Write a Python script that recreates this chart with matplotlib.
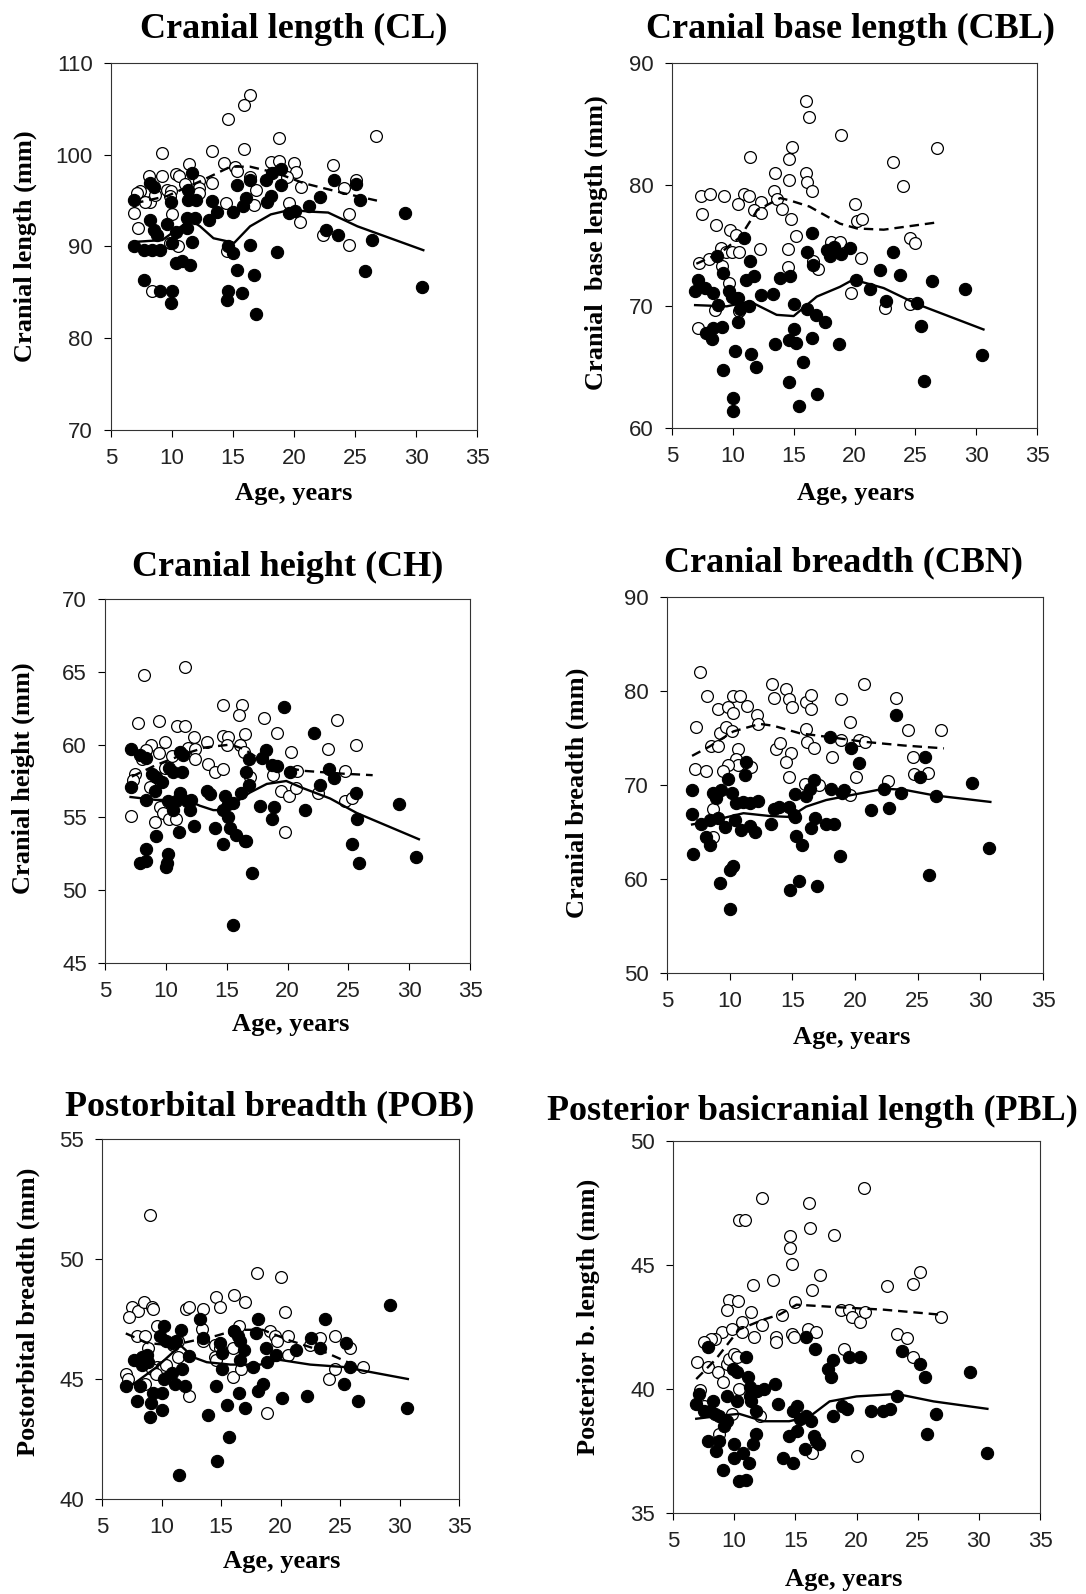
import numpy as np
import matplotlib
matplotlib.use("Agg")
import matplotlib.pyplot as plt

# ---- Cranial length (CL) ----
cl_open = [(16.4, 106.5), (15.9, 105.4), (14.6, 103.9), (18.8, 101.8), (26.7, 102.0), (9.2, 100.2),
           (15.9, 100.6), (13.3, 100.4), (11.4, 99.0), (14.3, 99.1), (15.2, 98.7), (15.3, 98.2),
           (18.1, 99.2), (18.8, 99.3), (20.0, 99.1), (20.2, 98.1), (23.2, 98.9), (8.1, 97.7),
           (9.2, 97.7), (10.3, 97.9), (10.6, 97.7), (7.4, 96.0), (7.1, 95.8), (8.2, 94.9),
           (7.8, 94.9), (9.6, 96.2), (9.9, 96.0), (9.8, 95.5), (12.2, 97.1), (12.2, 96.4),
           (12.2, 95.8), (13.3, 96.9), (16.4, 97.6), (16.9, 96.2), (19.4, 97.6), (20.6, 96.5),
           (24.1, 96.4), (25.1, 97.2), (14.4, 94.7), (19.6, 94.7), (20.5, 92.7), (6.9, 93.6),
           (7.2, 92.0), (10.0, 93.5), (10.5, 90.0), (9.8, 90.4), (24.5, 93.5), (22.4, 91.3),
           (24.5, 90.2), (14.5, 89.5), (8.4, 85.1), (16.7, 94.5), (11.1, 96.8), (8.6, 95.6)]
cl_fill = [(6.9, 95.1), (8.2, 96.9), (8.5, 96.5), (8.2, 92.9), (8.5, 91.8), (8.8, 91.3), (9.6, 92.5),
           (9.9, 94.9), (10.3, 91.6), (6.9, 90.0), (7.7, 89.6), (8.4, 89.6), (9.0, 89.6), (10.0, 90.4),
           (11.3, 95.1), (12.0, 95.1), (11.6, 98.0), (11.3, 96.2), (11.2, 93.1), (11.9, 93.1),
           (11.2, 92.0), (11.6, 90.5), (10.3, 88.2), (10.8, 88.4), (11.5, 88.0), (7.7, 86.4),
           (9.0, 85.1), (10.0, 85.1), (9.9, 83.8), (13.3, 95.0), (13.7, 93.8), (13.0, 92.9),
           (15.0, 93.8), (14.6, 90.0), (15.0, 89.3), (15.3, 87.4), (14.6, 85.2), (15.7, 84.9),
           (14.5, 84.2), (16.4, 90.2), (16.7, 86.9), (16.9, 82.6), (15.3, 96.7), (15.8, 94.4),
           (16.1, 95.3), (16.4, 97.3), (17.7, 97.3), (17.8, 94.9), (18.1, 95.5), (18.2, 98.0),
           (18.9, 98.5), (18.9, 96.7), (18.6, 89.4), (19.6, 93.6), (20.1, 93.9), (21.2, 94.4),
           (22.1, 95.4), (22.6, 91.8), (23.3, 97.2), (23.6, 91.3), (25.1, 96.8), (25.4, 95.1),
           (26.4, 90.7), (25.8, 87.3), (29.1, 93.6), (30.5, 85.6)]
cl_solid = [(6.9, 90.5), (9.2, 90.7), (11.5, 92.9), (12.3, 92.2), (13.4, 90.9), (15.1, 90.4),
            (16.4, 92.2), (18.1, 93.5), (19.7, 94.0), (21.3, 93.8), (22.8, 93.7), (25.2, 92.2),
            (30.6, 89.6)]
cl_dash = [(6.9, 94.7), (9.6, 95.5), (12.3, 97.1), (14.8, 98.7), (16.4, 98.7), (18.6, 98.0),
           (20.8, 96.9), (24.1, 95.8), (26.8, 95.0)]

# ---- Cranial base length (CBL) ----
cbl_open = [(16.0, 86.9), (16.3, 85.6), (18.9, 84.1), (26.8, 83.0), (11.4, 82.3), (14.9, 83.1),
            (14.6, 82.1), (13.5, 81.0), (16.0, 81.0), (16.1, 80.2), (16.5, 79.5), (14.6, 80.4),
            (23.2, 81.9), (24.0, 79.9), (7.4, 79.1), (8.1, 79.2), (9.3, 79.1), (10.9, 79.2),
            (11.3, 79.1), (10.4, 78.4), (7.5, 77.6), (8.6, 76.7), (12.3, 78.6), (11.7, 77.9),
            (12.3, 77.7), (13.4, 79.5), (13.6, 78.8), (14.0, 78.0), (14.8, 77.2), (20.0, 78.4),
            (20.2, 77.0), (20.6, 77.2), (9.8, 76.3), (10.3, 75.9), (9.0, 74.8), (9.4, 74.5),
            (9.9, 74.5), (10.5, 74.5), (12.2, 74.7), (7.2, 73.6), (8.0, 73.9), (9.1, 73.3),
            (14.5, 74.7), (14.5, 73.2), (15.2, 75.8), (16.6, 73.7), (17.0, 73.1), (18.1, 75.3),
            (18.8, 75.3), (20.5, 74.0), (24.6, 75.6), (25.0, 75.2), (19.7, 71.1), (22.5, 69.9),
            (24.6, 70.2), (7.1, 68.2), (8.5, 69.7), (10.5, 69.6), (9.7, 71.9)]
cbl_fill = [(16.5, 76.0), (10.9, 75.6), (16.1, 74.5), (17.7, 74.6), (18.3, 74.9), (18.0, 74.1),
            (18.9, 74.3), (19.6, 74.8), (16.6, 73.4), (11.4, 73.7), (11.1, 72.2), (11.7, 72.5),
            (8.7, 74.1), (9.2, 72.7), (13.9, 72.3), (14.7, 72.5), (7.1, 72.2), (6.9, 71.3),
            (7.7, 71.5), (8.4, 71.1), (9.7, 71.3), (9.9, 70.8), (10.4, 70.7), (8.8, 70.1),
            (10.6, 69.8), (11.3, 70.0), (12.3, 70.9), (13.3, 71.0), (15.0, 70.2), (16.1, 69.8),
            (16.8, 69.3), (17.6, 68.7), (10.4, 68.7), (9.1, 68.3), (7.8, 67.8), (8.3, 67.3),
            (8.4, 68.2), (20.1, 72.2), (21.3, 71.4), (22.1, 73.0), (23.7, 72.6), (23.2, 74.5),
            (22.6, 70.4), (25.1, 70.3), (26.4, 72.1), (25.5, 68.4), (25.7, 63.9), (29.1, 71.4),
            (30.5, 66.0), (13.5, 66.9), (14.6, 67.2), (15.2, 67.0), (16.5, 67.4), (15.0, 68.1),
            (18.7, 66.9), (10.2, 66.3), (11.5, 66.1), (11.9, 65.0), (15.8, 65.4), (9.2, 64.8),
            (14.6, 63.8), (16.9, 62.8), (15.4, 61.8), (10.0, 62.5), (10.0, 61.4)]
cbl_solid = [(6.9, 70.1), (9.5, 70.0), (11.4, 70.4), (13.6, 69.3), (15.0, 69.2), (16.9, 70.8),
             (18.8, 71.6), (19.9, 72.2), (22.4, 71.5), (25.1, 70.2), (30.6, 68.1)]
cbl_dash = [(7.0, 73.5), (9.0, 74.4), (10.6, 75.7), (12.0, 77.9), (13.9, 78.9), (14.7, 78.7),
            (16.3, 78.2), (18.8, 76.8), (20.2, 76.4), (22.4, 76.3), (26.8, 76.9)]

# ---- Cranial height (CH) ----
ch_open = [(8.2, 64.8), (11.6, 65.3), (7.7, 61.5), (9.4, 61.6), (10.9, 61.3), (11.6, 61.3),
           (14.7, 62.7), (16.3, 62.7), (16.0, 62.0), (18.1, 61.8), (24.1, 61.7), (19.1, 60.8),
           (16.5, 60.7), (14.7, 60.6), (15.1, 60.5), (12.3, 60.5), (8.8, 60.0), (9.9, 60.2),
           (9.4, 59.4), (10.5, 59.2), (11.8, 59.8), (12.4, 59.7), (12.4, 59.0), (13.4, 60.2),
           (13.5, 58.7), (14.0, 58.1), (14.7, 58.3), (15.0, 60.0), (16.1, 60.0), (16.4, 59.5),
           (20.3, 59.5), (23.3, 59.7), (25.6, 60.0), (24.7, 58.2), (20.8, 58.2), (18.8, 57.9),
           (16.9, 57.8), (7.5, 58.0), (7.3, 57.6), (8.0, 59.0), (9.9, 58.4), (8.7, 57.1),
           (19.5, 56.8), (20.1, 56.5), (20.7, 57.0), (22.5, 56.7), (24.7, 56.1), (25.3, 56.3),
           (9.5, 55.7), (9.8, 55.3), (10.3, 54.9), (10.8, 54.9), (9.1, 54.7), (7.1, 55.1),
           (19.8, 54.0), (8.4, 59.6)]
ch_fill = [(19.7, 62.6), (22.2, 60.8), (7.1, 59.7), (7.9, 59.3), (8.4, 59.1), (11.2, 59.5),
           (11.4, 59.3), (18.2, 59.6), (17.9, 59.1), (18.7, 58.6), (19.1, 58.5), (16.8, 59.0),
           (20.2, 58.1), (16.6, 58.1), (23.4, 58.3), (23.8, 57.7), (8.9, 58.0), (9.2, 57.8),
           (9.7, 57.4), (10.3, 58.4), (11.3, 58.1), (10.6, 58.1), (7.1, 57.1), (9.1, 56.8),
           (8.4, 56.2), (10.2, 56.1), (10.8, 56.1), (11.2, 56.7), (11.7, 56.1), (12.1, 56.2),
           (12.0, 55.5), (10.6, 55.5), (13.4, 56.8), (13.6, 56.6), (14.9, 56.5), (15.1, 55.9),
           (14.7, 55.5), (15.5, 56.0), (16.2, 56.7), (16.8, 57.2), (22.7, 57.2), (17.7, 55.8),
           (18.9, 55.7), (18.7, 54.9), (21.4, 55.5), (15.1, 55.0), (25.6, 56.7), (29.2, 55.9),
           (25.7, 54.9), (12.3, 54.4), (14.0, 54.3), (15.3, 54.3), (15.8, 53.8), (16.5, 53.4),
           (16.6, 53.4), (11.1, 54.0), (9.2, 53.7), (14.7, 53.2), (25.3, 53.2), (8.4, 52.8),
           (7.9, 51.9), (8.4, 52.0), (10.2, 52.5), (10.1, 51.9), (10.0, 51.6), (25.9, 51.9),
           (17.1, 51.2), (30.6, 52.3), (15.5, 47.6)]
ch_solid = [(7.1, 56.4), (9.2, 56.2), (11.7, 56.2), (12.8, 55.8), (13.9, 55.5), (15.0, 55.5),
            (15.5, 55.9), (16.9, 56.7), (18.3, 57.3), (19.9, 57.5), (21.3, 57.0), (23.5, 56.3),
            (25.7, 55.3), (30.8, 53.5)]
ch_dash = [(7.2, 57.8), (9.2, 58.6), (11.7, 59.4), (13.2, 59.8), (15.3, 60.0), (16.4, 59.7),
           (17.7, 59.0), (19.4, 58.5), (21.3, 58.2), (24.6, 58.0), (27.0, 57.9)]

# ---- Cranial breadth (CBN) ----
cbn_open = [(7.6, 82.0), (8.2, 79.5), (10.3, 79.5), (10.8, 79.5), (9.1, 78.1), (9.9, 78.3),
            (10.3, 77.7), (11.4, 78.4), (12.2, 77.5), (12.3, 76.5), (13.4, 80.7), (13.5, 79.3),
            (14.5, 80.2), (14.7, 79.1), (15.0, 78.3), (16.1, 78.8), (16.5, 79.6), (16.5, 78.1),
            (18.9, 79.2), (20.7, 80.7), (23.3, 79.3), (19.6, 76.7), (24.2, 75.8), (26.9, 75.8),
            (7.3, 76.2), (8.5, 74.1), (9.1, 74.1), (9.2, 75.5), (9.7, 76.2), (10.2, 75.7),
            (10.7, 73.8), (10.5, 72.8), (10.7, 72.1), (11.7, 71.9), (9.9, 72.1), (9.5, 71.5),
            (7.2, 71.7), (8.1, 71.5), (13.7, 73.8), (14.0, 74.5), (14.9, 73.4), (14.5, 72.4),
            (14.7, 70.9), (16.1, 76.0), (16.2, 74.6), (16.7, 73.9), (18.2, 73.0), (18.9, 74.8),
            (20.3, 74.8), (20.8, 74.6), (24.6, 73.0), (24.7, 71.2), (25.8, 71.3), (20.1, 70.9),
            (16.0, 70.1), (17.1, 70.0), (22.6, 70.4), (19.6, 68.9), (8.7, 67.5), (8.7, 64.5)]
cbn_fill = [(23.3, 77.5), (18.0, 75.1), (19.7, 73.9), (20.3, 72.3), (25.6, 73.0), (25.2, 70.8),
            (11.3, 72.5), (11.2, 71.1), (9.9, 70.6), (7.0, 69.5), (7.0, 66.9), (8.7, 69.2),
            (8.9, 68.6), (9.3, 69.5), (10.2, 69.1), (16.7, 70.5), (16.4, 69.6), (16.1, 68.8),
            (15.2, 69.0), (18.1, 69.6), (19.1, 69.5), (19.0, 69.1), (22.3, 69.6), (23.7, 69.1),
            (26.5, 68.8), (29.3, 70.2), (10.5, 68.1), (11.1, 68.2), (11.6, 68.1), (12.3, 68.3),
            (13.5, 67.4), (13.9, 67.7), (14.7, 67.7), (15.1, 66.8), (15.2, 66.6), (7.7, 65.8),
            (8.4, 66.3), (9.1, 66.5), (9.6, 65.5), (10.4, 66.3), (10.9, 65.2), (11.6, 65.6),
            (12.0, 65.0), (13.3, 65.8), (8.1, 64.5), (8.4, 63.6), (7.1, 62.7), (16.8, 66.5),
            (16.5, 65.4), (17.7, 65.9), (18.3, 65.8), (15.3, 64.6), (15.8, 63.6), (21.3, 67.3),
            (22.7, 67.6), (18.8, 62.5), (30.7, 63.3), (10.0, 61.0), (10.3, 61.4), (9.2, 59.6),
            (14.8, 58.8), (15.5, 59.8), (17.0, 59.3), (25.9, 60.4), (10.0, 56.8)]
cbn_solid = [(7.0, 65.8), (8.9, 66.3), (11.1, 67.0), (13.2, 66.7), (14.8, 66.6), (16.1, 67.7),
             (17.7, 68.4), (19.6, 68.9), (22.3, 69.6), (23.9, 69.5), (26.3, 68.9), (30.8, 68.2)]
cbn_dash = [(7.0, 73.1), (8.4, 74.1), (10.3, 75.7), (12.4, 76.5), (13.5, 76.3), (15.6, 75.5),
            (18.5, 75.0), (20.7, 74.6), (23.9, 74.2), (27.1, 73.9)]

# ---- Postorbital breadth (POB) ----
pob_open = [(9.05, 51.85), (18.0, 49.4), (20.0, 49.25), (16.1, 48.5), (14.6, 48.4), (14.9, 48.0),
            (17.0, 48.2), (7.5, 48.0), (8.0, 47.85), (8.5, 48.2), (9.2, 48.0), (9.3, 47.9),
            (7.3, 47.6), (12.1, 47.9), (12.3, 48.0), (13.5, 47.9), (20.4, 47.8), (13.4, 47.1),
            (9.6, 47.2), (7.9, 46.8), (8.6, 46.8), (16.5, 47.2), (16.1, 47.0), (19.1, 47.0),
            (19.5, 46.8), (19.7, 46.6), (20.6, 46.8), (23.3, 46.7), (24.6, 46.8), (13.5, 46.6),
            (14.5, 46.4), (14.9, 46.3), (16.0, 46.3), (8.9, 46.3), (11.4, 46.6), (11.0, 46.4),
            (22.5, 46.4), (25.8, 46.3), (20.6, 46.0), (14.5, 45.9), (14.6, 45.8), (11.4, 45.9),
            (9.6, 45.5), (10.0, 45.5), (10.4, 45.6), (9.2, 45.4), (9.5, 45.2), (8.6, 44.8),
            (7.0, 45.2), (7.2, 45.0), (16.0, 45.1), (16.7, 45.4), (24.1, 45.0), (24.6, 45.4),
            (26.9, 45.5), (12.3, 44.3), (18.9, 43.6)]
pob_fill = [(29.2, 48.1), (13.2, 47.5), (18.1, 47.5), (23.7, 47.5), (10.2, 47.2), (9.9, 46.8),
            (10.4, 46.6), (11.6, 47.05), (10.9, 46.5), (11.2, 46.6), (13.5, 46.7), (16.1, 47.0),
            (16.4, 46.8), (16.6, 46.6), (17.9, 46.9), (22.6, 46.7), (23.3, 46.3), (25.5, 46.5),
            (14.9, 46.5), (15.1, 46.1), (16.9, 46.2), (16.6, 45.8), (18.8, 46.3), (19.6, 46.0),
            (21.3, 46.2), (12.3, 45.95), (7.7, 45.8), (8.4, 45.9), (8.4, 45.6), (8.8, 46.0),
            (8.9, 45.7), (17.7, 45.5), (18.9, 45.7), (15.1, 45.4), (11.7, 45.4), (10.9, 45.25),
            (25.8, 45.5), (10.2, 45.0), (11.1, 44.8), (12.0, 44.7), (7.0, 44.7), (8.2, 44.7),
            (14.6, 44.7), (18.5, 44.8), (18.1, 44.5), (25.3, 44.8), (9.3, 44.4), (10.0, 44.4),
            (16.5, 44.4), (22.2, 44.3), (20.1, 44.2), (7.9, 44.1), (9.1, 44.0), (26.5, 44.1),
            (15.5, 43.9), (17.0, 43.8), (10.0, 43.7), (30.6, 43.8), (9.0, 43.4), (13.9, 43.5),
            (15.7, 42.6), (14.7, 41.6), (11.5, 41.0)]
pob_solid = [(7.4, 44.7), (9.6, 45.5), (11.6, 46.4), (12.7, 45.9), (13.8, 45.7), (15.8, 45.6),
             (18.3, 45.6), (19.9, 45.8), (22.5, 45.6), (25.3, 45.5), (30.7, 45.0)]
pob_dash = [(7.0, 46.9), (8.8, 46.5), (10.9, 46.4), (12.7, 46.6), (14.6, 46.8), (16.3, 47.05),
            (18.5, 47.05), (20.8, 46.6), (23.6, 46.15), (26.1, 45.6)]

# ---- Posterior basicranial length (PBL) ----
pbl_open = [(20.6, 48.1), (12.3, 47.7), (16.1, 47.5), (10.4, 46.8), (10.9, 46.8), (16.2, 46.5),
            (18.2, 46.2), (14.6, 46.15), (14.6, 45.7), (14.7, 45.05), (13.2, 44.4), (17.0, 44.6),
            (16.4, 44.0), (11.5, 44.2), (22.5, 44.15), (24.6, 44.25), (25.2, 44.7), (9.6, 43.6),
            (10.3, 43.55), (9.4, 43.2), (11.4, 43.1), (15.0, 43.5), (12.3, 42.6), (10.6, 42.7),
            (13.9, 43.0), (11.6, 42.1), (9.0, 42.3), (8.4, 42.0), (8.1, 42.0), (7.5, 41.9),
            (9.8, 42.4), (10.6, 42.3), (18.7, 43.2), (19.4, 43.2), (19.6, 42.9), (20.3, 42.7),
            (20.7, 43.1), (26.9, 42.9), (13.4, 42.1), (13.4, 41.9), (14.7, 42.2), (14.9, 42.1),
            (16.0, 42.4), (16.7, 42.3), (23.3, 42.2), (24.1, 42.05), (19.0, 41.6), (24.6, 41.3),
            (7.0, 41.1), (7.9, 40.9), (8.7, 40.7), (9.4, 41.0), (9.6, 41.2), (10.0, 41.4),
            (10.2, 41.3), (9.1, 40.3), (7.2, 39.97), (10.4, 40.0), (7.5, 39.3), (9.8, 39.0),
            (12.1, 38.9), (8.8, 38.2), (16.4, 37.4), (20.0, 37.3)]
pbl_fill = [(7.9, 41.7), (15.9, 42.1), (16.6, 41.6), (11.0, 41.3), (9.9, 40.8), (10.2, 40.7),
            (18.1, 41.15), (17.7, 40.8), (17.9, 40.5), (19.4, 41.3), (20.3, 41.3), (23.7, 41.55),
            (25.2, 41.0), (25.6, 40.5), (29.3, 40.7), (11.1, 40.5), (11.3, 40.1), (11.9, 39.9),
            (12.4, 40.0), (13.3, 40.2), (7.1, 39.8), (6.9, 39.4), (9.4, 39.7), (10.2, 39.5),
            (8.3, 39.5), (11.3, 39.7), (11.4, 39.5), (13.6, 39.4), (15.1, 39.3), (18.8, 39.3),
            (19.2, 39.2), (18.1, 38.9), (21.2, 39.1), (22.2, 39.1), (22.7, 39.2), (23.3, 39.7),
            (26.5, 39.0), (7.5, 39.1), (8.0, 39.1), (8.4, 39.0), (8.8, 38.9), (9.4, 38.7),
            (9.2, 38.5), (11.8, 39.1), (14.8, 39.1), (15.4, 38.8), (16.3, 38.7), (15.9, 38.9),
            (15.1, 38.3), (14.5, 38.1), (11.8, 38.2), (11.5, 37.8), (7.9, 37.9), (8.8, 37.9),
            (8.5, 37.5), (10.0, 37.8), (10.0, 37.2), (10.7, 37.4), (11.2, 37.0), (9.1, 36.75),
            (10.4, 36.3), (11.0, 36.35), (16.5, 38.1), (16.9, 37.8), (16.7, 37.9), (15.8, 37.6),
            (14.0, 37.2), (14.8, 37.0), (25.8, 38.2), (30.7, 37.4)]
pbl_solid = [(6.9, 38.8), (8.5, 38.9), (10.4, 39.0), (12.4, 38.7), (14.5, 38.7), (16.2, 38.9),
             (17.8, 39.5), (20.0, 39.7), (23.3, 39.8), (26.3, 39.5), (30.7, 39.2)]
pbl_dash = [(6.9, 40.4), (8.5, 41.2), (10.4, 42.4), (12.4, 42.8), (13.7, 43.0), (15.1, 43.4),
            (18.4, 43.3), (22.2, 43.2), (26.8, 43.0)]

W, H = 1086, 1594
SERIF = "Liberation Serif"
SANS = "Liberation Sans"

# title, ylabel, ylim, ytick step, axes box px (l, t, r, b), title xy, xlabel xy, ylabel xy
panels = [
    ("Cranial length (CL)", "Cranial length (mm)", (70, 110), 10, (111, 63, 477, 430),
     (294, 38), (294, 500), (25, 246), cl_open, cl_fill, cl_solid, cl_dash),
    ("Cranial base length (CBL)", "Cranial  base length (mm)", (60, 90), 10, (672, 63, 1037, 428),
     (850, 38), (856, 500), (596, 243), cbl_open, cbl_fill, cbl_solid, cbl_dash),
    ("Cranial height (CH)", "Cranial height (mm)", (45, 70), 5, (105, 599, 470, 963),
     (288, 576), (291, 1031), (23, 778), ch_open, ch_fill, ch_solid, ch_dash),
    ("Cranial breadth (CBN)", "Cranial breadth (mm)", (50, 90), 10, (667, 597, 1043, 973),
     (844, 571), (852, 1044), (577, 793), cbn_open, cbn_fill, cbn_solid, cbn_dash),
    ("Postorbital breadth (POB)", "Postorbital breadth (mm)", (40, 55), 5, (102, 1139, 459, 1499),
     (270, 1115), (282, 1568), (28, 1312), pob_open, pob_fill, pob_solid, pob_dash),
    ("Posterior basicranial length (PBL)", "Posterior b. length (mm)", (35, 50), 5,
     (673, 1141, 1040, 1513), (812, 1120), (844, 1586), (588, 1317),
     pbl_open, pbl_fill, pbl_solid, pbl_dash),
]

fig = plt.figure(figsize=(W / 100, H / 100), dpi=100)

for (title, ylab, ylim, step, box, tpos, xpos, ypos, op, fi, so, da) in panels:
    l, t, r, b = box
    ax = fig.add_axes([l / W, 1 - b / H, (r - l) / W, (b - t) / H])
    op = np.array(op)
    fi = np.array(fi)
    so = np.array(so)
    da = np.array(da)
    ax.plot(op[:, 0], op[:, 1], "o", ms=8.5, mfc="white", mec="black", mew=0.9, ls="none")
    ax.plot(fi[:, 0], fi[:, 1], "o", ms=8.8, mfc="black", mec="black", mew=0.8, ls="none")
    ax.plot(so[:, 0], so[:, 1], "-", color="black", lw=1.7)
    ax.plot(da[:, 0], da[:, 1], "--", color="black", lw=1.7, dashes=(4, 2.5))
    ax.set_xlim(5, 35)
    ax.set_ylim(*ylim)
    ax.set_xticks(range(5, 36, 5))
    ax.set_yticks(np.arange(ylim[0], ylim[1] + 0.1, step))
    ax.tick_params(direction="out", length=5, width=0.8, pad=8, labelsize=16,
                   top=False, right=False, labelcolor="#222222")
    for lab in ax.get_xticklabels() + ax.get_yticklabels():
        lab.set_fontfamily(SANS)
    for sp in ax.spines.values():
        sp.set_linewidth(0.8)
        sp.set_color("#333333")
    fig.text(tpos[0] / W, 1 - tpos[1] / H, title, ha="center", va="baseline",
             fontsize=26, fontweight="bold", family=SERIF)
    fig.text(xpos[0] / W, 1 - xpos[1] / H, "Age, years", ha="center", va="baseline",
             fontsize=19, fontweight="bold", family=SERIF)
    fig.text(ypos[0] / W, 1 - ypos[1] / H, ylab, ha="center", va="center", rotation=90,
             fontsize=19, fontweight="bold", family=SERIF)

fig.savefig("out.png", dpi=100)
